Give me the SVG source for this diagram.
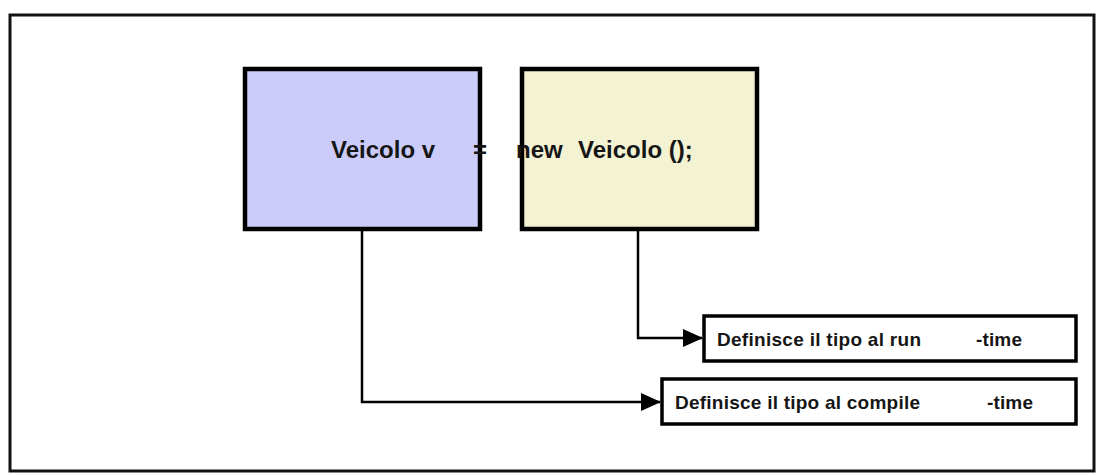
<svg xmlns="http://www.w3.org/2000/svg" width="1098" height="475" viewBox="0 0 1098 475">
<style>
.box{stroke:#000;stroke-width:4.5}
.lbl{stroke:#000;stroke-width:3.5;fill:#fff}
.big{font-family:"Liberation Sans",Arial,sans-serif;font-weight:bold;font-size:24px;fill:#161616}
.small{font-family:"Liberation Sans",Arial,sans-serif;font-weight:bold;font-size:19px;fill:#161616}
.conn{stroke:#000;stroke-width:2.5;fill:none}
</style>
<defs>
<marker id="arr" markerWidth="20" markerHeight="18" refX="19" refY="9" orient="auto" markerUnits="userSpaceOnUse">
<path d="M0,0 L20,9 L0,18 z" fill="#000"/>
</marker>
</defs>
<rect x="0" y="0" width="1098" height="475" fill="#fff"/>
<rect x="10" y="15" width="1084" height="456" fill="none" stroke="#111" stroke-width="3"/>
<g id="node-decl">
<rect class="box" x="245" y="69" width="235" height="160" fill="#ccccfa"/>
</g>
<g id="node-new">
<rect class="box" x="522" y="69" width="235" height="160" fill="#f3f2d2"/>
</g>
<g id="texts">
<text class="big" x="331" y="158">Veicolo v</text>
<text class="big" x="473" y="158">=</text>
<text class="big" x="516" y="158">new</text>
<text class="big" x="578" y="158">Veicolo ();</text>
</g>
<g id="node-run">
<rect class="lbl" x="704" y="316" width="372" height="45"/>
<text class="small" x="717" y="346" textLength="204" lengthAdjust="spacing">Definisce il tipo al run</text>
<text class="small" x="976" y="346" textLength="46" lengthAdjust="spacing">-time</text>
</g>
<g id="node-compile">
<rect class="lbl" x="662" y="379" width="414" height="45"/>
<text class="small" x="675" y="409" textLength="245" lengthAdjust="spacing">Definisce il tipo al compile</text>
<text class="small" x="987" y="409" textLength="46" lengthAdjust="spacing">-time</text>
</g>
<g id="connectors">
<path class="conn" d="M362,231 V402 H660" marker-end="url(#arr)"/>
<path class="conn" d="M638,231 V338 H702" marker-end="url(#arr)"/>
</g>
</svg>
